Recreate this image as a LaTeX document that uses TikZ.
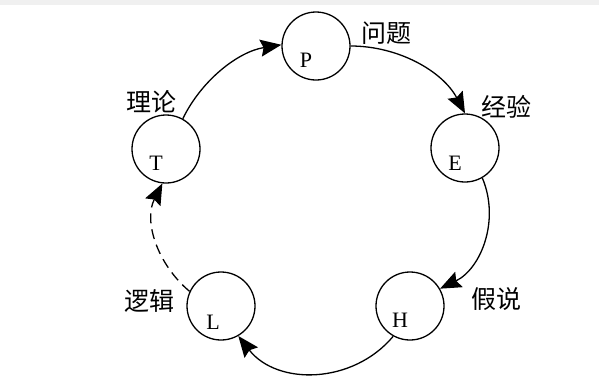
\documentclass[tikz,border=0pt]{standalone}
\usepackage{fontspec}
\setmainfont{Liberation Serif}
\newfontfamily\cjk{Noto Sans CJK SC}
\usetikzlibrary{arrows.meta}
\begin{document}
\begin{tikzpicture}[x=1pt,y=1pt,
  stage/.style={draw,circle,line width=1.3pt,minimum size=68pt,inner sep=0pt},
  letter/.style={font=\fontsize{22}{22}\selectfont},
  cn/.style={font=\cjk\fontsize{25}{25}\selectfont,inner sep=0pt},
  flow/.style={line width=1.3pt,-{Stealth[length=21pt,width=17pt,inset=3pt]}},
  flowdash/.style={flow,dash pattern=on 10pt off 6pt}]
\useasboundingbox (0,0) rectangle (599,-376);
\fill[gray!12] (0,0) rectangle (599,-5);
% stages
\node[stage,label={[letter,shift={(-10pt,-14pt)}]center:P}] (P) at (316,-46) {};
\node[stage,label={[letter,shift={(-10pt,-15pt)}]center:E}] (E) at (465,-148) {};
\node[stage,label={[letter,shift={(-10pt,-14pt)}]center:H}] (H) at (410,-306) {};
\node[stage,label={[letter,shift={(-8pt,-16pt)}]center:L}] (L) at (221,-306) {};
\node[stage,label={[letter,shift={(-10pt,-14pt)}]center:T}] (T) at (166,-149) {};
% labels
\node[cn] (lP) at (386,-33) {问题};
\node[cn] (lE) at (506,-107) {经验};
\node[cn] (lH) at (496,-299) {假说};
\node[cn] (lL) at (149,-301) {逻辑};
\node[cn] (lT) at (151,-102) {理论};
% connectors
\draw[flow] (T.61) to[out=64,in=189,looseness=0.9] (P.178);
\draw[flow] (P.0) to[out=0,in=118,looseness=0.92] (E.90);
\draw[flow] (E.-60) to[out=-67,in=26,looseness=0.99] (H.30);
\draw[flow] (H.241) to[out=230,in=-52,looseness=1.04] (L.-60);
\draw[flowdash] (L.155) to[out=140,in=243,looseness=0.97] (T.264);
\end{tikzpicture}
\end{document}
